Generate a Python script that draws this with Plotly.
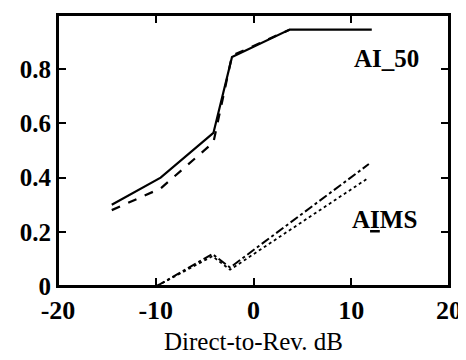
import plotly.graph_objects as go

# AI_50 curves
ai50_x = [-14.5, -9.5, -4.1, -2.2, 3.7, 12.1]
ai50_solid = [0.30, 0.40, 0.565, 0.845, 0.946, 0.946]
ai50_dash_x = [-14.5, -9.5, -4.1, -2.2, 3.7]
ai50_dashed = [0.28, 0.36, 0.53, 0.85, 0.946]

# AIMS curves
aims_x = [-9.9, -4.2, -2.4, 11.8]
aims_dashdot = [0.0, 0.118, 0.068, 0.45]
aims_dotted = [0.0, 0.11, 0.06, 0.40]

x_ticks = [-20, -10, 0, 10, 20]
y_ticks = [0, 0.2, 0.4, 0.6, 0.8]
y_tick_labels = ["0", "0.2", "0.4", "0.6", "0.8"]

fig = go.Figure()
fig.add_trace(go.Scatter(x=ai50_x, y=ai50_solid, mode="lines",
                         line=dict(color="black", width=2.2)))
fig.add_trace(go.Scatter(x=ai50_dash_x, y=ai50_dashed, mode="lines",
                         line=dict(color="black", width=2.2, dash="dash")))
fig.add_trace(go.Scatter(x=aims_x, y=aims_dashdot, mode="lines",
                         line=dict(color="black", width=2, dash="dashdot")))
fig.add_trace(go.Scatter(x=aims_x, y=aims_dotted, mode="lines",
                         line=dict(color="black", width=1.8, dash="dot")))

font_serif = "Liberation Serif, Times New Roman, serif"
fig.add_annotation(x=13.6, y=0.84, text="<b>AI_50</b>", showarrow=False,
                   font=dict(family=font_serif, size=25, color="black"))
fig.add_annotation(x=13.4, y=0.246, text="<b>A<u>I</u>MS</b>", showarrow=False,
                   font=dict(family=font_serif, size=25, color="black"))
fig.add_annotation(x=0.5, y=-0.205, xref="paper", yref="paper", yanchor="middle",
                   text="Direct-to-Rev. dB", showarrow=False,
                   font=dict(family=font_serif, size=25, color="black"))

# plot frame
fig.add_shape(type="rect", xref="paper", yref="paper", x0=0, x1=1, y0=0, y1=1,
              line=dict(color="black", width=2), layer="above")

fig.update_layout(
    width=466, height=360,
    margin=dict(l=50, r=25, t=7, b=82, pad=0),
    paper_bgcolor="white", plot_bgcolor="white",
    showlegend=False,
    font=dict(family=font_serif, color="black"),
)
fig.update_xaxes(range=[-20, 20], tickvals=x_ticks, ticktext=[f"<b>{v}</b>" for v in x_ticks],
                 ticks="inside", ticklen=8, tickwidth=2, tickcolor="black",
                 showline=True, linewidth=2, linecolor="black", mirror="ticks",
                 showgrid=False, zeroline=False, automargin=False,
                 tickfont=dict(family=font_serif, size=26, color="black"))
fig.update_yaxes(range=[0, 1.0], tickvals=y_ticks, ticktext=[f"<b>{t}</b>" for t in y_tick_labels],
                 ticks="inside", ticklen=8, tickwidth=2, tickcolor="black",
                 showline=True, linewidth=2, linecolor="black", mirror="ticks",
                 showgrid=False, zeroline=False, automargin=False,
                 tickfont=dict(family=font_serif, size=25, color="black"))

fig.write_html("out.html")
